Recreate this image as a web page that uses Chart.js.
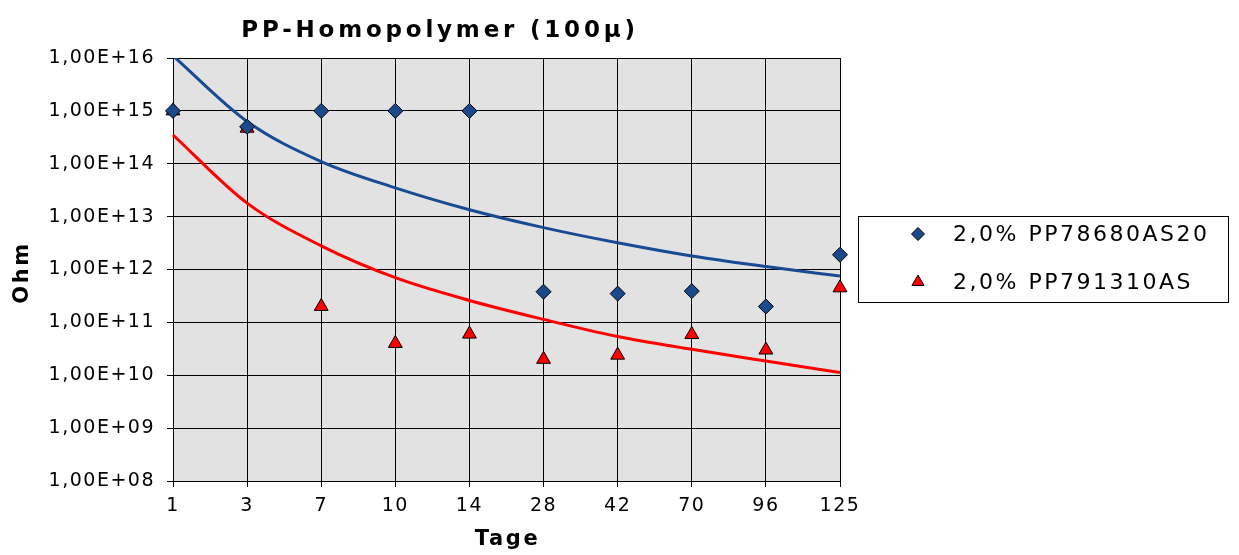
<!DOCTYPE html>
<html><head><meta charset="utf-8">
<script src="https://cdn.jsdelivr.net/npm/chart.js@4/dist/chart.umd.min.js"></script>
<style>html,body{margin:0;padding:0;background:#fff;overflow:hidden}#wrap{width:1239px;height:555px;position:relative}</style>
</head><body><div id="wrap"><canvas id="c" width="1239" height="555"></canvas></div>
<script>
// ---- data ----
const chartTitle = 'PP-Homopolymer (100µ)';
const xTitle = 'Tage';
const yTitle = 'Ohm';
const categories = ['1', '3', '7', '10', '14', '28', '42', '70', '96', '125'];
const labelBlue = '2,0% PP78680AS20';
const labelRed = '2,0% PP791310AS';
const valuesBlue = [1e15, 5e14, 1e15, 1e15, 1e15, 3.8e11, 3.5e11, 3.9e11, 2e11, 1.9e12];
const valuesRed = [1e15, 4.7e14, 2e11, 4e10, 6e10, 2e10, 2.4e10, 5.9e10, 3e10, 4.5e11];
const trendBlue = [1.1e16, 6.3e14, 1.1e14, 3.5e13, 1.35e13, 6.2e12, 3.2e12, 1.8e12, 1.14e12, 7.5e11];
const trendRed = [3.5e14, 1.8e13, 2.8e12, 7e11, 2.6e11, 1.14e11, 5.4e10, 3.1e10, 1.86e10, 1.13e10];
const yTickValues = [1e8, 1e9, 1e10, 1e11, 1e12, 1e13, 1e14, 1e15, 1e16];

const BLUE_MARK = '#1b4a8c';
const BLUE_LINE = '#174b93';
const RED = '#ff0000';
const FONT = '"DejaVu Sans", Verdana, sans-serif';

function fmtSci(v) {
  const e = Math.round(Math.log10(v));
  return '1,00E+' + (e < 10 ? '0' + e : String(e));
}

const bgPlugin = {
  id: 'bg',
  beforeDraw(chart) {
    const ctx = chart.ctx, a = chart.chartArea;
    ctx.letterSpacing = '1.5px';
    ctx.save();
    ctx.fillStyle = '#e2e2e2';
    ctx.fillRect(a.left, a.top, a.right - a.left, a.bottom - a.top);
    ctx.restore();
  },
  afterDraw(chart) {
    const ctx = chart.ctx, a = chart.chartArea;
    ctx.save();
    // title
    ctx.fillStyle = '#000';
    ctx.font = 'bold 23px ' + FONT;
    ctx.letterSpacing = '3.8px';
    ctx.textAlign = 'center';
    ctx.textBaseline = 'middle';
    ctx.fillText(chartTitle, 440, 31);
    // axis titles
    ctx.font = 'bold 21px ' + FONT;
    ctx.letterSpacing = '2.6px';
    ctx.fillText(xTitle, (a.left + a.right) / 2 + 1, 540);
    ctx.save();
    ctx.translate(23, (a.top + a.bottom) / 2 + 3);
    ctx.rotate(-Math.PI / 2);
    ctx.fillText(yTitle, 0, 0);
    ctx.restore();
    // legend
    ctx.lineWidth = 1;
    ctx.strokeStyle = '#000';
    ctx.strokeRect(858.5, 216.5, 370, 86);
    ctx.font = '22px ' + FONT;
    ctx.letterSpacing = '2.5px';
    ctx.textAlign = 'left';
    const items = [
      { label: chart.data.datasets[0].label, style: 'rectRot', fill: BLUE_MARK, y: 234, r: 6.5 },
      { label: chart.data.datasets[1].label, style: 'triangle', fill: RED, y: 282, r: 7 }
    ];
    items.forEach(it => {
      ctx.fillStyle = it.fill;
      ctx.strokeStyle = '#000';
      Chart.helpers.drawPoint(ctx, { pointStyle: it.style, radius: it.r, borderWidth: 1 }, 918, it.y);
      ctx.fillStyle = '#000';
      ctx.fillText(it.label, 953, it.y + 1);
    });
    ctx.restore();
  }
};

new Chart(document.getElementById('c'), {
  type: 'line',
  data: {
    labels: categories,
    datasets: [
      { label: labelBlue, data: valuesBlue, showLine: false, pointStyle: 'rectRot', pointRadius: 7.5, pointHoverRadius: 7.5,
        backgroundColor: BLUE_MARK, borderColor: '#000', pointBorderWidth: 1, order: 0 },
      { label: labelRed, data: valuesRed, showLine: false, pointStyle: 'triangle', pointRadius: 8, pointHoverRadius: 8,
        backgroundColor: RED, borderColor: '#000', pointBorderWidth: 1, order: 1 },
      { label: 'trend blue', data: trendBlue, borderColor: BLUE_LINE, borderWidth: 3, pointRadius: 0,
        cubicInterpolationMode: 'monotone', fill: false, order: 2 },
      { label: 'trend red', data: trendRed, borderColor: RED, borderWidth: 3, pointRadius: 0,
        cubicInterpolationMode: 'monotone', fill: false, order: 3 }
    ]
  },
  options: {
    responsive: false,
    animation: false,
    events: [],
    layout: { padding: { left: 0, right: 399, top: 58, bottom: 0 } },
    plugins: { legend: { display: false }, title: { display: false }, tooltip: { enabled: false } },
    scales: {
      x: {
        type: 'category',
        offset: false,
        grid: { color: '#000', lineWidth: 1, tickLength: 6, tickColor: '#000', offset: false },
        border: { color: '#000', width: 1 },
        ticks: { color: '#000', font: { family: FONT, size: 19 }, padding: 8, maxRotation: 0, autoSkip: false },
        afterFit(s) { s.height = 74; }
      },
      y: {
        type: 'logarithmic',
        min: 1e8, max: 1e16,
        grid: { color: '#000', lineWidth: 1, tickLength: 6, tickColor: '#000' },
        border: { color: '#000', width: 1 },
        afterBuildTicks(s) { s.ticks = yTickValues.map(v => ({ value: v })); },
        ticks: { color: '#000', font: { family: FONT, size: 19 }, padding: 12, callback: v => fmtSci(v) },
        afterFit(s) { s.width = 173; }
      }
    }
  },
  plugins: [bgPlugin]
});
</script>
</body></html>
